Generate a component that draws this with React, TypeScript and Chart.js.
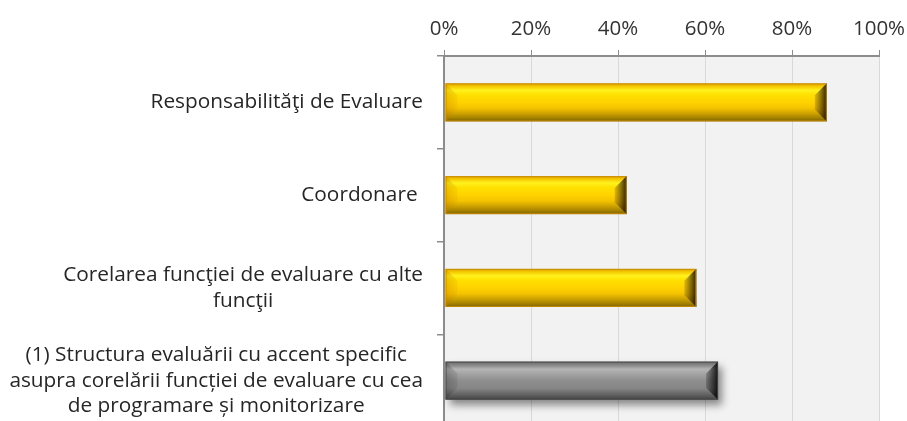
import React, { useEffect, useRef } from "react";
import { Chart, registerables } from "chart.js";

Chart.register(...registerables);

// ---- data ----
const categoryLines: string[][] = [
  ["Responsabilităţi de Evaluare"],
  ["Coordonare "],
  ["Corelarea funcţiei de evaluare cu alte", "funcţii"],
  [
    "(1) Structura evaluării cu accent specific",
    "asupra corelării funcției de evaluare cu cea",
    "de programare și monitorizare",
  ],
];
const values: number[] = [88, 42, 58, 63];
const barKinds: string[] = ["gold", "gold", "gold", "gray"];
const xMin = 0;
const xMax = 100;
const xStep = 20;

// ---- styles ----
const FONT = '"Open Sans", "DejaVu Sans", sans-serif';
const LABEL_SIZE = 20.8;
const LABEL_LINE = 25.5;
const TICK_SIZE = 20.5;
const AXIS_GRAY = "#8c8c8c";

type Pal = {
  face: [number, string][];
  left: [string, string];
  right: [string, string];
  edge: string;
};

const GOLD: Pal = {
  face: [
    [0, "#dca000"],
    [0.08, "#f5c800"],
    [0.18, "#fff21e"],
    [0.3, "#ffe000"],
    [0.5, "#ffd200"],
    [0.65, "#f4c400"],
    [0.78, "#d0a400"],
    [0.9, "#a88400"],
    [1, "#806400"],
  ],
  left: ["rgba(190,120,0,0.35)", "rgba(220,150,0,0.15)"],
  right: ["rgba(90,55,0,0.2)", "rgba(25,15,0,0.92)"],
  edge: "rgba(200,140,0,0.9)",
};
const GRAY: Pal = {
  face: [
    [0, "#6a6a6a"],
    [0.1, "#8a8a8a"],
    [0.2, "#b4b4b4"],
    [0.35, "#a0a0a0"],
    [0.5, "#8e8e8e"],
    [0.7, "#868686"],
    [0.85, "#666666"],
    [1, "#444444"],
  ],
  left: ["rgba(40,40,40,0.3)", "rgba(40,40,40,0.1)"],
  right: ["rgba(0,0,0,0.2)", "rgba(0,0,0,0.88)"],
  edge: "rgba(70,70,70,0.9)",
};

function poly(ctx: CanvasRenderingContext2D, pts: number[][], fill: any) {
  ctx.beginPath();
  ctx.moveTo(pts[0][0], pts[0][1]);
  for (let i = 1; i < pts.length; i++) ctx.lineTo(pts[i][0], pts[i][1]);
  ctx.closePath();
  ctx.fillStyle = fill;
  ctx.fill();
}

function drawBevelBar(
  ctx: CanvasRenderingContext2D,
  left: number,
  right: number,
  top: number,
  bottom: number,
  pal: Pal,
  shadow: boolean
) {
  const h = bottom - top;
  const b = Math.min(12, h / 3, (right - left) / 2);
  ctx.save();
  if (shadow) {
    ctx.shadowColor = "rgba(0,0,0,0.45)";
    ctx.shadowBlur = 8;
    ctx.shadowOffsetX = 4;
    ctx.shadowOffsetY = 5;
  }
  const gf = ctx.createLinearGradient(0, top, 0, bottom);
  pal.face.forEach(([s, c]) => gf.addColorStop(s, c));
  ctx.fillStyle = gf;
  ctx.fillRect(left, top, right - left, h);
  ctx.restore();

  const gl = ctx.createLinearGradient(left, 0, left + b, 0);
  gl.addColorStop(0, pal.left[0]);
  gl.addColorStop(1, pal.left[1]);
  poly(ctx, [[left, top], [left + b, top + b], [left + b, bottom - b], [left, bottom]], gl);

  const gr = ctx.createLinearGradient(right - b, 0, right, 0);
  gr.addColorStop(0, pal.right[0]);
  gr.addColorStop(1, pal.right[1]);
  poly(ctx, [[right, top], [right - b, top + b], [right - b, bottom - b], [right, bottom]], gr);

  ctx.save();
  ctx.strokeStyle = pal.edge;
  ctx.lineWidth = 1;
  ctx.strokeRect(left + 0.5, top + 0.5, right - left - 1, h - 1);
  ctx.restore();
}

const bgPlugin = {
  id: "plotBg",
  beforeDraw(chart: any) {
    const { ctx, chartArea } = chart;
    ctx.save();
    ctx.fillStyle = "#f2f2f2";
    ctx.fillRect(chartArea.left, chartArea.top, chartArea.right - chartArea.left, chartArea.bottom - chartArea.top);
    ctx.restore();
  },
};

const bevelPlugin = {
  id: "bevelBars",
  afterDatasetsDraw(chart: any) {
    const ctx = chart.ctx as CanvasRenderingContext2D;
    const meta = chart.getDatasetMeta(0);
    meta.data.forEach((el: any, i: number) => {
      const p = el.getProps(["x", "y", "base", "height"], true);
      const left = Math.min(p.base, p.x);
      const right = Math.max(p.base, p.x);
      const top = p.y - p.height / 2;
      const bottom = p.y + p.height / 2;
      const kind = barKinds[i];
      drawBevelBar(ctx, left + 1, right, top, bottom, kind === "gray" ? GRAY : GOLD, kind === "gray");
    });
  },
};

const labelPlugin = {
  id: "catLabels",
  afterDraw(chart: any) {
    const ctx = chart.ctx as CanvasRenderingContext2D;
    const yScale = chart.scales.y;
    ctx.save();
    ctx.font = `${LABEL_SIZE}px ${FONT}`;
    ctx.fillStyle = "#262626";
    ctx.textBaseline = "middle";
    ctx.textAlign = "center";
    const blockRight = chart.chartArea.left - 21;
    categoryLines.forEach((lines, i) => {
      const cy = yScale.getPixelForValue(i);
      const w = Math.max(...lines.map((l) => ctx.measureText(l).width));
      const cx = blockRight - w / 2;
      lines.forEach((l, j) => {
        ctx.fillText(l, cx, cy + (j - (lines.length - 1) / 2) * LABEL_LINE);
      });
    });
    ctx.restore();
  },
};

export default function App() {
  const ref = useRef<HTMLCanvasElement | null>(null);
  useEffect(() => {
    if (!ref.current) return;
    const chart = new Chart(ref.current, {
      type: "bar",
      data: {
        labels: categoryLines.map((l) => l.join(" ")),
        datasets: [
          {
            data: values,
            backgroundColor: "rgba(0,0,0,0)",
            borderWidth: 0,
            barPercentage: 0.41,
            categoryPercentage: 1,
          },
        ],
      },
      options: {
        indexAxis: "y",
        animation: false,
        responsive: false,
        layout: { padding: { top: 0, right: 28, bottom: 5, left: 0 } },
        plugins: { legend: { display: false }, tooltip: { enabled: false } },
        scales: {
          x: {
            position: "top",
            min: xMin,
            max: xMax,
            afterFit: (s: any) => {
              s.height = 56;
              s.paddingRight = 0;
              s.paddingLeft = 0;
            },
            ticks: {
              stepSize: xStep,
              callback: (v: any) => `${v}%`,
              font: { family: FONT, size: TICK_SIZE },
              color: "#333333",
              padding: 9,
              maxRotation: 0,
            },
            grid: {
              color: "#d9d9d9",
              lineWidth: 1,
              tickColor: AXIS_GRAY,
              tickLength: 6,
            },
            border: { color: AXIS_GRAY, width: 2 },
          },
          y: {
            afterFit: (s: any) => {
              s.width = 444;
            },
            ticks: { display: false },
            grid: {
              offset: true,
              color: "rgba(0,0,0,0)",
              tickColor: AXIS_GRAY,
              tickLength: 7,
              lineWidth: 1.5,
            },
            border: { color: AXIS_GRAY, width: 2 },
          },
        },
      },
      plugins: [bgPlugin, bevelPlugin, labelPlugin],
    });
    return () => chart.destroy();
  }, []);
  return (
    <div style={{ position: "fixed", left: 0, top: 0, width: 907, height: 432 }}>
      <canvas ref={ref} width={907} height={432} style={{ display: "block" }} />
    </div>
  );
}
